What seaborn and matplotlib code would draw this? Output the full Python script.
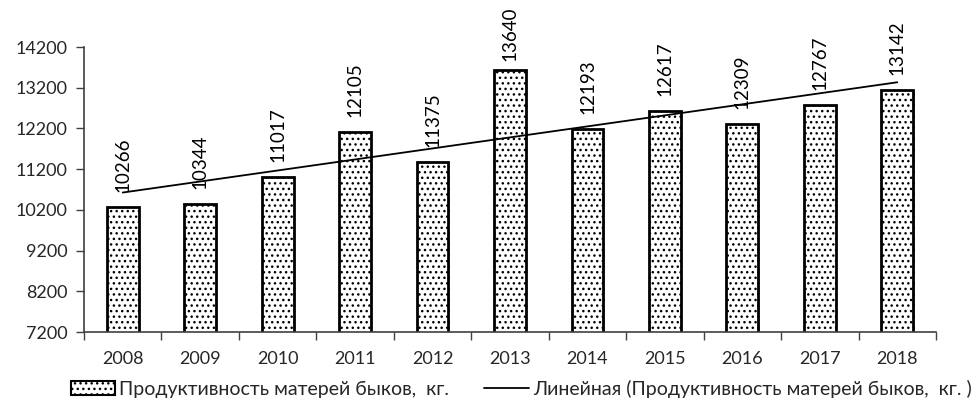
import numpy as np
import pandas as pd
import matplotlib
matplotlib.use("Agg")
import matplotlib.pyplot as plt
import matplotlib.patheffects as pe
from matplotlib.patches import Patch
from matplotlib.lines import Line2D
import seaborn as sns

years = ["2008", "2009", "2010", "2011", "2012", "2013", "2014", "2015", "2016", "2017", "2018"]
productivity = [10266, 10344, 11017, 12105, 11375, 13640, 12193, 12617, 12309, 12767, 13142]
y_ticks = [7200, 8200, 9200, 10200, 11200, 12200, 13200, 14200]

bar_label = "Продуктивность матерей быков,  кг."
trend_label = "Линейная (Продуктивность матерей быков,  кг. )"

sns.set_theme(style="white")
plt.rcParams["font.family"] = ["Lato", "DejaVu Sans"]
plt.rcParams["hatch.linewidth"] = 1.0
plt.rcParams["hatch.color"] = "black"

df = pd.DataFrame({"year": years, "value": productivity})

fig = plt.figure(figsize=(9.77, 4.11), dpi=100)
ax = fig.add_axes([84 / 977, 1 - 332 / 411, (936 - 84) / 977, (332 - 47) / 411])

sns.barplot(data=df, x="year", y="value", color="white", edgecolor="black",
            linewidth=2.0, width=0.41, saturation=1, ax=ax, zorder=2)
for bar in ax.patches:
    bar.set_hatch("...")
    bar.set_path_effects([pe.SimplePatchShadow(offset=(1, -1), shadow_rgbFace="0.6", alpha=0.5),
                          pe.Normal()])

# linear trend fitted to the series
idx = np.arange(len(productivity))
slope, intercept = np.polyfit(idx, productivity, 1)
trend = slope * idx + intercept
sns.lineplot(x=idx, y=trend, color="black", linewidth=1.3, ax=ax, zorder=3)

# value labels above the bars, kept inside the plotting area
for i, v in enumerate(productivity):
    y = min(v + 370, 13850)
    ax.text(i, y, str(v), rotation=90, ha="center", va="bottom",
            fontsize=13.5, color="black", zorder=4, clip_on=False)

ax.set_ylim(7200, 14200)
ax.set_xlim(-0.5, len(years) - 0.5)
ax.set_yticks(y_ticks)
ax.set_yticklabels([str(t) for t in y_ticks], fontsize=13)
ax.set_xticks(idx)
ax.set_xticklabels(years, fontsize=13)
ax.set_xticks(np.arange(-0.5, len(years)), minor=True)
ax.tick_params(axis="x", which="major", length=0, pad=14)
ax.tick_params(axis="x", which="minor", length=6, width=1, color="#404040", direction="out", bottom=True)
ax.tick_params(axis="y", which="major", length=6, width=1, color="#404040", direction="out", left=True, pad=6)
ax.set_xlabel("")
ax.set_ylabel("")

for side in ["top", "right"]:
    ax.spines[side].set_visible(False)
for side in ["left", "bottom"]:
    ax.spines[side].set_color("#404040")
    ax.spines[side].set_linewidth(1.2)

handles = [
    Patch(facecolor="white", edgecolor="black", hatch="...", linewidth=1.5, label=bar_label),
    Line2D([0], [0], color="black", linewidth=1.3, label=trend_label),
]
fig.legend(handles=handles, loc="center", bbox_to_anchor=(521 / 977, 1 - 389 / 411),
           ncol=2, frameon=False, fontsize=14, handlelength=2.3, handleheight=0.75,
           handletextpad=0.2, columnspacing=1.8)

fig.savefig("out.png", dpi=100)
